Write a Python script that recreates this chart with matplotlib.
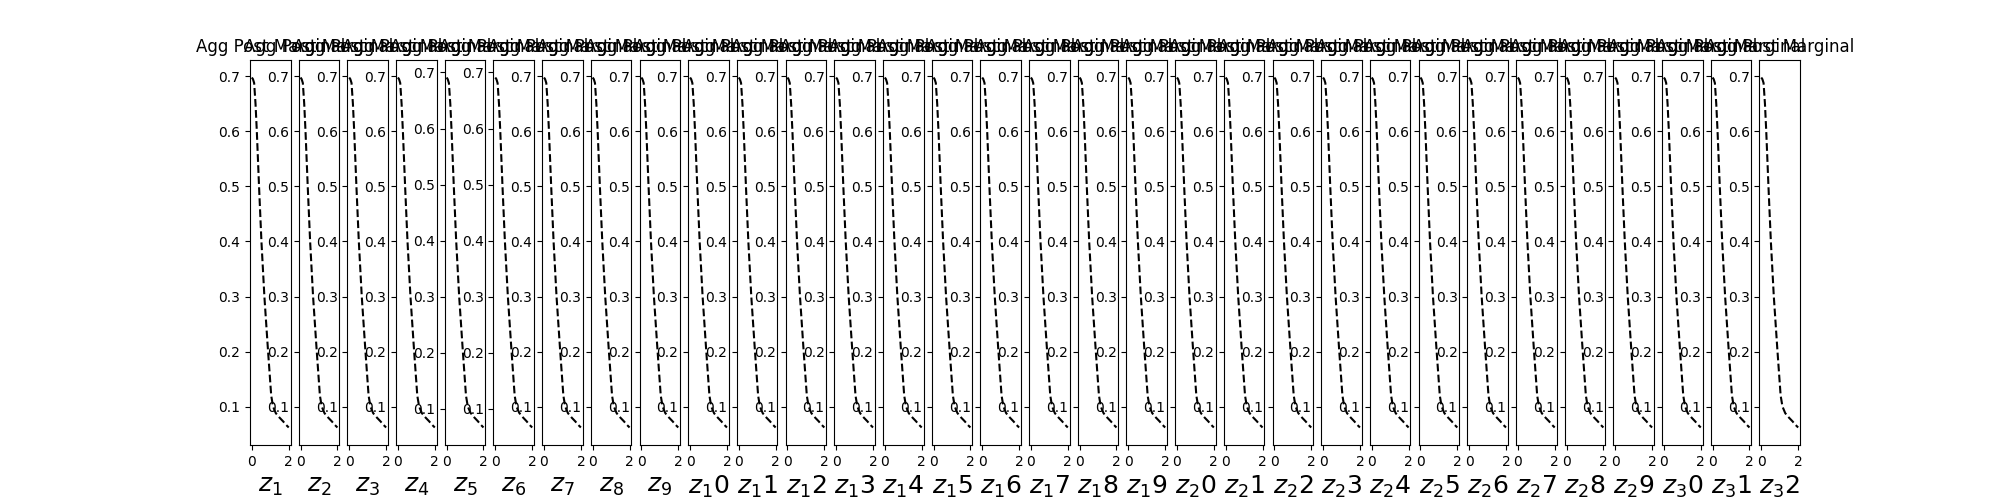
import numpy as np
import matplotlib
matplotlib.use('Agg')
import matplotlib.pyplot as plt

# aggregated posterior marginal curve
x_vals = [0.0, 0.06, 0.125, 0.2, 0.27, 0.39, 0.52, 0.68, 0.88, 1.05, 1.15, 1.3, 1.5, 1.7, 1.85, 2.0]
y_std = [0.698, 0.695, 0.688, 0.65, 0.60, 0.50, 0.40, 0.30, 0.20, 0.12, 0.10, 0.088, 0.080, 0.073, 0.067, 0.062]
# panels z5 and z6 have a slightly narrower range
y_alt = [0.691, 0.688, 0.681, 0.644, 0.595, 0.497, 0.399, 0.301, 0.203, 0.124, 0.104, 0.093, 0.085, 0.078, 0.072, 0.067]
alt_panels = [5, 6]

n_dims = 32
xlabels = ['$z_%d$' % i for i in range(1, n_dims + 1)]
title = 'Agg Post Marginal'

fig, axes = plt.subplots(1, n_dims, figsize=(20, 5), dpi=100)
for i, ax in enumerate(axes):
    y = y_alt if (i + 1) in alt_panels else y_std
    ax.plot(x_vals, y, 'k--')
    ax.set_xticks([0, 2])
    ax.set_title(title)
    ax.set_xlabel(xlabels[i], fontsize=18)

plt.savefig('out.png', dpi=100)
plt.close()
